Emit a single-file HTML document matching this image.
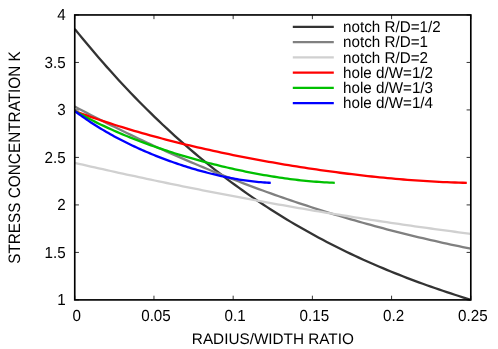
<!DOCTYPE html>
<html><head><meta charset="utf-8"><style>
html,body{margin:0;padding:0;background:#fff;}
svg{display:block;will-change:transform;opacity:0.999;}
text{font-family:"Liberation Sans",sans-serif;font-size:15.20px;fill:#000;text-rendering:geometricPrecision;}
</style></head><body>
<svg width="498" height="349" viewBox="0 0 498 349">
<rect width="498" height="349" fill="#fff"/>
<path d="M74.75,299.90 h4.20 M470.80,299.90 h-4.20 M74.75,252.41 h4.20 M470.80,252.41 h-4.20 M74.75,204.92 h4.20 M470.80,204.92 h-4.20 M74.75,157.42 h4.20 M470.80,157.42 h-4.20 M74.75,109.93 h4.20 M470.80,109.93 h-4.20 M74.75,62.44 h4.20 M470.80,62.44 h-4.20 M74.75,14.95 h4.20 M470.80,14.95 h-4.20 M74.75,299.90 v-4.20 M74.75,14.95 v4.20 M153.96,299.90 v-4.20 M153.96,14.95 v4.20 M233.17,299.90 v-4.20 M233.17,14.95 v4.20 M312.38,299.90 v-4.20 M312.38,14.95 v4.20 M391.59,299.90 v-4.20 M391.59,14.95 v4.20 M470.80,299.90 v-4.20 M470.80,14.95 v4.20" fill="none" stroke="#000" stroke-width="0.80"/>
<path d="M74.75,28.91 L78.75,33.86 L82.75,38.76 L86.75,43.59 L90.75,48.36 L94.75,53.07 L98.75,57.73 L102.75,62.33 L106.75,66.87 L110.75,71.36 L114.76,75.79 L118.76,80.16 L122.76,84.48 L126.76,88.74 L130.76,92.95 L134.76,97.10 L138.76,101.20 L142.76,105.25 L146.76,109.25 L150.76,113.19 L154.76,117.08 L158.76,120.92 L162.76,124.71 L166.76,128.45 L170.76,132.14 L174.76,135.78 L178.76,139.37 L182.76,142.91 L186.76,146.41 L190.76,149.85 L194.77,153.25 L198.77,156.60 L202.77,159.91 L206.77,163.17 L210.77,166.39 L214.77,169.56 L218.77,172.68 L222.77,175.76 L226.77,178.80 L230.77,181.80 L234.77,184.75 L238.77,187.66 L242.77,190.53 L246.77,193.36 L250.77,196.14 L254.77,198.89 L258.77,201.60 L262.77,204.26 L266.77,206.89 L270.77,209.48 L274.78,212.03 L278.78,214.55 L282.78,217.02 L286.78,219.46 L290.78,221.87 L294.78,224.23 L298.78,226.56 L302.78,228.86 L306.78,231.12 L310.78,233.35 L314.78,235.55 L318.78,237.71 L322.78,239.84 L326.78,241.94 L330.78,244.00 L334.78,246.04 L338.78,248.04 L342.78,250.01 L346.78,251.95 L350.78,253.87 L354.79,255.75 L358.79,257.61 L362.79,259.44 L366.79,261.23 L370.79,263.01 L374.79,264.75 L378.79,266.47 L382.79,268.17 L386.79,269.83 L390.79,271.48 L394.79,273.10 L398.79,274.69 L402.79,276.26 L406.79,277.81 L410.79,279.33 L414.79,280.84 L418.79,282.32 L422.79,283.78 L426.79,285.22 L430.79,286.64 L434.80,288.03 L438.80,289.41 L442.80,290.77 L446.80,292.11 L450.80,293.44 L454.80,294.74 L458.80,296.03 L462.80,297.30 L466.80,298.55 L470.80,299.79" fill="none" stroke="#333333" stroke-width="2.30" stroke-linecap="butt" stroke-linejoin="round"/>
<path d="M74.75,106.54 L78.75,108.66 L82.75,110.77 L86.75,112.86 L90.75,114.94 L94.75,117.00 L98.75,119.05 L102.75,121.09 L106.75,123.10 L110.75,125.11 L114.76,127.09 L118.76,129.07 L122.76,131.03 L126.76,132.97 L130.76,134.90 L134.76,136.81 L138.76,138.71 L142.76,140.60 L146.76,142.47 L150.76,144.32 L154.76,146.17 L158.76,147.99 L162.76,149.81 L166.76,151.60 L170.76,153.39 L174.76,155.16 L178.76,156.91 L182.76,158.65 L186.76,160.38 L190.76,162.09 L194.77,163.79 L198.77,165.47 L202.77,167.14 L206.77,168.80 L210.77,170.44 L214.77,172.07 L218.77,173.68 L222.77,175.28 L226.77,176.87 L230.77,178.44 L234.77,180.00 L238.77,181.54 L242.77,183.07 L246.77,184.59 L250.77,186.09 L254.77,187.58 L258.77,189.05 L262.77,190.52 L266.77,191.97 L270.77,193.40 L274.78,194.82 L278.78,196.23 L282.78,197.62 L286.78,199.01 L290.78,200.37 L294.78,201.73 L298.78,203.07 L302.78,204.40 L306.78,205.71 L310.78,207.01 L314.78,208.30 L318.78,209.58 L322.78,210.84 L326.78,212.09 L330.78,213.32 L334.78,214.54 L338.78,215.75 L342.78,216.95 L346.78,218.14 L350.78,219.31 L354.79,220.47 L358.79,221.61 L362.79,222.74 L366.79,223.86 L370.79,224.97 L374.79,226.07 L378.79,227.15 L382.79,228.22 L386.79,229.28 L390.79,230.32 L394.79,231.35 L398.79,232.37 L402.79,233.38 L406.79,234.37 L410.79,235.36 L414.79,236.33 L418.79,237.28 L422.79,238.23 L426.79,239.16 L430.79,240.08 L434.80,240.99 L438.80,241.89 L442.80,242.78 L446.80,243.65 L450.80,244.51 L454.80,245.36 L458.80,246.19 L462.80,247.02 L466.80,247.83 L470.80,248.63" fill="none" stroke="#808080" stroke-width="2.30" stroke-linecap="butt" stroke-linejoin="round"/>
<path d="M74.75,162.86 L78.75,163.78 L82.75,164.70 L86.75,165.61 L90.75,166.52 L94.75,167.43 L98.75,168.33 L102.75,169.22 L106.75,170.12 L110.75,171.00 L114.76,171.89 L118.76,172.77 L122.76,173.64 L126.76,174.51 L130.76,175.38 L134.76,176.24 L138.76,177.10 L142.76,177.96 L146.76,178.81 L150.76,179.65 L154.76,180.50 L158.76,181.33 L162.76,182.17 L166.76,183.00 L170.76,183.82 L174.76,184.64 L178.76,185.46 L182.76,186.27 L186.76,187.08 L190.76,187.89 L194.77,188.69 L198.77,189.48 L202.77,190.28 L206.77,191.06 L210.77,191.85 L214.77,192.63 L218.77,193.40 L222.77,194.17 L226.77,194.94 L230.77,195.70 L234.77,196.46 L238.77,197.22 L242.77,197.97 L246.77,198.71 L250.77,199.45 L254.77,200.19 L258.77,200.93 L262.77,201.65 L266.77,202.38 L270.77,203.10 L274.78,203.82 L278.78,204.53 L282.78,205.24 L286.78,205.94 L290.78,206.64 L294.78,207.34 L298.78,208.03 L302.78,208.72 L306.78,209.40 L310.78,210.08 L314.78,210.76 L318.78,211.43 L322.78,212.09 L326.78,212.76 L330.78,213.41 L334.78,214.07 L338.78,214.72 L342.78,215.36 L346.78,216.01 L350.78,216.64 L354.79,217.28 L358.79,217.90 L362.79,218.53 L366.79,219.15 L370.79,219.77 L374.79,220.38 L378.79,220.99 L382.79,221.59 L386.79,222.19 L390.79,222.79 L394.79,223.38 L398.79,223.97 L402.79,224.55 L406.79,225.13 L410.79,225.70 L414.79,226.27 L418.79,226.84 L422.79,227.40 L426.79,227.96 L430.79,228.51 L434.80,229.06 L438.80,229.61 L442.80,230.15 L446.80,230.69 L450.80,231.22 L454.80,231.75 L458.80,232.27 L462.80,232.79 L466.80,233.31 L470.80,233.82" fill="none" stroke="#d0d0d0" stroke-width="2.30" stroke-linecap="butt" stroke-linejoin="round"/>
<path d="M74.75,111.06 L78.71,112.53 L82.67,113.98 L86.63,115.40 L90.59,116.80 L94.55,118.18 L98.51,119.53 L102.47,120.86 L106.43,122.17 L110.39,123.46 L114.35,124.73 L118.31,125.98 L122.27,127.21 L126.23,128.42 L130.19,129.62 L134.15,130.79 L138.11,131.94 L142.07,133.08 L146.03,134.20 L149.99,135.30 L153.95,136.39 L157.91,137.46 L161.87,138.51 L165.83,139.55 L169.79,140.57 L173.75,141.57 L177.71,142.57 L181.67,143.54 L185.63,144.51 L189.59,145.45 L193.55,146.39 L197.51,147.31 L201.47,148.22 L205.43,149.11 L209.39,149.99 L213.35,150.86 L217.31,151.72 L221.27,152.56 L225.23,153.39 L229.19,154.21 L233.15,155.02 L237.11,155.82 L241.07,156.60 L245.03,157.38 L248.99,158.14 L252.95,158.89 L256.91,159.63 L260.87,160.36 L264.83,161.08 L268.79,161.79 L272.75,162.48 L276.71,163.17 L280.67,163.85 L284.64,164.51 L288.60,165.17 L292.56,165.81 L296.52,166.45 L300.48,167.07 L304.44,167.69 L308.40,168.29 L312.36,168.88 L316.32,169.46 L320.28,170.04 L324.24,170.60 L328.20,171.15 L332.16,171.69 L336.12,172.22 L340.08,172.74 L344.04,173.25 L348.00,173.75 L351.96,174.23 L355.92,174.71 L359.88,175.18 L363.84,175.63 L367.80,176.07 L371.76,176.50 L375.72,176.92 L379.68,177.33 L383.64,177.72 L387.60,178.10 L391.56,178.47 L395.52,178.83 L399.48,179.17 L403.44,179.51 L407.40,179.82 L411.36,180.13 L415.32,180.42 L419.28,180.70 L423.24,180.96 L427.20,181.21 L431.16,181.44 L435.12,181.66 L439.08,181.86 L443.04,182.05 L447.00,182.22 L450.96,182.37 L454.92,182.51 L458.88,182.63 L462.84,182.73 L466.80,182.82" fill="none" stroke="#ff0000" stroke-width="2.30" stroke-linecap="butt" stroke-linejoin="round"/>
<path d="M74.75,111.06 L77.38,112.52 L80.00,113.96 L82.63,115.38 L85.26,116.77 L87.88,118.14 L90.51,119.49 L93.14,120.82 L95.76,122.12 L98.39,123.41 L101.02,124.67 L103.64,125.91 L106.27,127.14 L108.90,128.34 L111.52,129.53 L114.15,130.70 L116.78,131.85 L119.40,132.98 L122.03,134.10 L124.66,135.20 L127.28,136.28 L129.91,137.34 L132.54,138.39 L135.16,139.43 L137.79,140.44 L140.41,141.45 L143.04,142.44 L145.67,143.41 L148.29,144.37 L150.92,145.31 L153.55,146.25 L156.17,147.16 L158.80,148.07 L161.43,148.96 L164.05,149.84 L166.68,150.71 L169.31,151.56 L171.93,152.40 L174.56,153.23 L177.19,154.05 L179.81,154.86 L182.44,155.65 L185.07,156.44 L187.69,157.21 L190.32,157.97 L192.95,158.72 L195.57,159.46 L198.20,160.19 L200.83,160.90 L203.45,161.61 L206.08,162.31 L208.71,162.99 L211.33,163.67 L213.96,164.33 L216.59,164.99 L219.21,165.63 L221.84,166.27 L224.47,166.89 L227.09,167.50 L229.72,168.11 L232.35,168.70 L234.97,169.28 L237.60,169.86 L240.23,170.42 L242.85,170.97 L245.48,171.51 L248.11,172.04 L250.73,172.56 L253.36,173.07 L255.99,173.57 L258.61,174.06 L261.24,174.54 L263.86,175.01 L266.49,175.46 L269.12,175.91 L271.74,176.34 L274.37,176.76 L277.00,177.17 L279.62,177.57 L282.25,177.95 L284.88,178.32 L287.50,178.68 L290.13,179.03 L292.76,179.37 L295.38,179.69 L298.01,180.00 L300.64,180.29 L303.26,180.57 L305.89,180.84 L308.52,181.10 L311.14,181.33 L313.77,181.56 L316.40,181.77 L319.02,181.96 L321.65,182.14 L324.28,182.30 L326.90,182.44 L329.53,182.57 L332.16,182.68 L334.78,182.78" fill="none" stroke="#00c000" stroke-width="2.30" stroke-linecap="butt" stroke-linejoin="round"/>
<path d="M74.75,111.06 L76.73,112.53 L78.71,113.98 L80.69,115.40 L82.67,116.80 L84.65,118.18 L86.63,119.53 L88.61,120.86 L90.59,122.17 L92.57,123.46 L94.55,124.73 L96.53,125.98 L98.51,127.21 L100.49,128.42 L102.47,129.62 L104.45,130.79 L106.43,131.94 L108.41,133.08 L110.39,134.20 L112.37,135.30 L114.35,136.39 L116.33,137.46 L118.31,138.51 L120.29,139.55 L122.27,140.57 L124.25,141.57 L126.23,142.57 L128.21,143.54 L130.19,144.51 L132.17,145.45 L134.15,146.39 L136.13,147.31 L138.11,148.22 L140.09,149.11 L142.07,149.99 L144.05,150.86 L146.03,151.72 L148.01,152.56 L149.99,153.39 L151.97,154.21 L153.95,155.02 L155.93,155.82 L157.91,156.60 L159.89,157.38 L161.87,158.14 L163.85,158.89 L165.83,159.63 L167.81,160.36 L169.79,161.08 L171.77,161.79 L173.75,162.48 L175.73,163.17 L177.71,163.85 L179.69,164.51 L181.67,165.17 L183.65,165.81 L185.63,166.45 L187.61,167.07 L189.59,167.69 L191.57,168.29 L193.55,168.88 L195.53,169.46 L197.51,170.04 L199.49,170.60 L201.47,171.15 L203.45,171.69 L205.43,172.22 L207.41,172.74 L209.39,173.25 L211.37,173.75 L213.35,174.23 L215.33,174.71 L217.31,175.18 L219.29,175.63 L221.27,176.07 L223.25,176.50 L225.23,176.92 L227.21,177.33 L229.19,177.72 L231.17,178.10 L233.15,178.47 L235.13,178.83 L237.11,179.17 L239.09,179.51 L241.07,179.82 L243.05,180.13 L245.03,180.42 L247.01,180.70 L248.99,180.96 L250.97,181.21 L252.95,181.44 L254.93,181.66 L256.91,181.86 L258.89,182.05 L260.87,182.22 L262.85,182.37 L264.83,182.51 L266.81,182.63 L268.79,182.73 L270.77,182.82" fill="none" stroke="#0000ff" stroke-width="2.30" stroke-linecap="butt" stroke-linejoin="round"/>
<rect x="74.75" y="14.95" width="396.05" height="284.95" fill="none" stroke="#000" stroke-width="1.65"/>
<text transform="translate(65.60,305.05) scale(1,1.050)" text-anchor="end">1</text>
<text transform="translate(65.60,257.56) scale(1,1.050)" text-anchor="end">1.5</text>
<text transform="translate(65.60,210.07) scale(1,1.050)" text-anchor="end">2</text>
<text transform="translate(65.60,162.57) scale(1,1.050)" text-anchor="end">2.5</text>
<text transform="translate(65.60,115.08) scale(1,1.050)" text-anchor="end">3</text>
<text transform="translate(65.60,67.59) scale(1,1.050)" text-anchor="end">3.5</text>
<text transform="translate(65.60,20.10) scale(1,1.050)" text-anchor="end">4</text>
<text transform="translate(76.75,320.60) scale(1,1.050)" text-anchor="middle">0</text>
<text transform="translate(155.96,320.60) scale(1,1.050)" text-anchor="middle">0.05</text>
<text transform="translate(235.17,320.60) scale(1,1.050)" text-anchor="middle">0.1</text>
<text transform="translate(314.38,320.60) scale(1,1.050)" text-anchor="middle">0.15</text>
<text transform="translate(393.59,320.60) scale(1,1.050)" text-anchor="middle">0.2</text>
<text transform="translate(472.80,320.60) scale(1,1.050)" text-anchor="middle">0.25</text>
<text transform="translate(272.85,343.50) scale(1,1.000)" text-anchor="middle" style="font-size:15.30px">RADIUS/WIDTH RATIO</text>
<text transform="translate(20.10,157.50) rotate(-90) scale(1,1.080)" text-anchor="middle" style="font-size:15.33px">STRESS CONCENTRATION K</text>
<path d="M292.8,26.80 H333.8" stroke="#333333" stroke-width="2.30" fill="none"/>
<text transform="translate(343.10,32.05) scale(1,1.030)" text-anchor="start">notch R/D=1/2</text>
<path d="M292.8,42.08 H333.8" stroke="#808080" stroke-width="2.30" fill="none"/>
<text transform="translate(343.10,47.33) scale(1,1.030)" text-anchor="start">notch R/D=1</text>
<path d="M292.8,57.36 H333.8" stroke="#d0d0d0" stroke-width="2.30" fill="none"/>
<text transform="translate(343.10,62.61) scale(1,1.030)" text-anchor="start">notch R/D=2</text>
<path d="M292.8,72.64 H333.8" stroke="#ff0000" stroke-width="2.30" fill="none"/>
<text transform="translate(343.10,77.89) scale(1,1.030)" text-anchor="start">hole d/W=1/2</text>
<path d="M292.8,87.92 H333.8" stroke="#00c000" stroke-width="2.30" fill="none"/>
<text transform="translate(343.10,93.17) scale(1,1.030)" text-anchor="start">hole d/W=1/3</text>
<path d="M292.8,103.20 H333.8" stroke="#0000ff" stroke-width="2.30" fill="none"/>
<text transform="translate(343.10,108.45) scale(1,1.030)" text-anchor="start">hole d/W=1/4</text>
</svg></body></html>
